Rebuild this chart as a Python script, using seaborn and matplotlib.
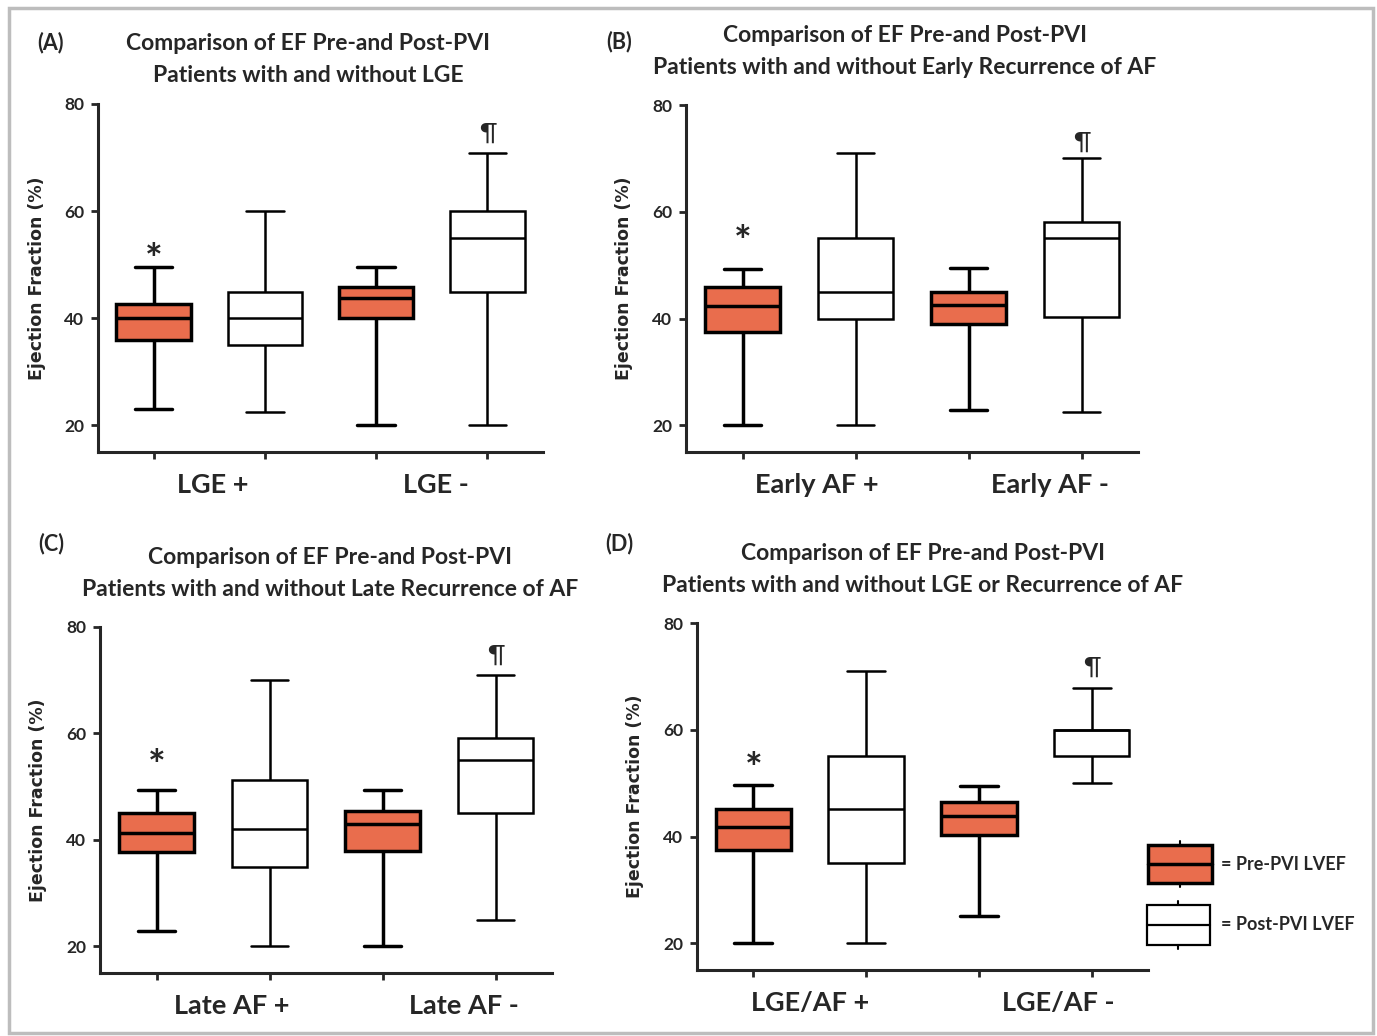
import numpy as np
import pandas as pd
import matplotlib
matplotlib.use("Agg")
import matplotlib.pyplot as plt
import seaborn as sns
from matplotlib.patches import Rectangle

# five-number summaries: [low whisker, q1, median, q3, high whisker]
A_PRE = [[23, 36, 40, 42.7, 49.5], [20, 40, 43.7, 45.9, 49.5]]
A_POST = [[22.5, 35, 40, 44.9, 60], [20, 44.9, 55, 60, 70.9]]
B_PRE = [[20, 37.4, 42.4, 45.9, 49.3], [22.9, 39, 42.6, 44.9, 49.5]]
B_POST = [[20, 40, 44.9, 55, 71], [22.5, 40.2, 55, 58.1, 70]]
C_PRE = [[22.9, 37.8, 41.3, 45.1, 49.4], [20, 37.9, 43, 45.4, 49.4]]
C_POST = [[20, 35, 42, 51.2, 70], [25, 45.1, 55.1, 59.1, 71]]
D_PRE = [[20, 37.5, 41.7, 45.1, 49.6], [25.2, 40.3, 43.8, 46.5, 49.5]]
D_POST = [[20, 35.1, 45.1, 55.1, 71], [50, 55.1, 60, 60, 67.9]]

GROUPS = [["LGE +", "LGE -"], ["Early AF +", "Early AF -"],
          ["Late AF +", "Late AF -"], ["LGE/AF +", "LGE/AF -"]]
PANEL_LABELS = ["(A)", "(B)", "(C)", "(D)"]
TITLE_LINE1 = "Comparison of EF Pre-and Post-PVI"
TITLE_LINE2 = ["Patients with and without LGE",
               "Patients with and without Early Recurrence of AF",
               "Patients with and without Late Recurrence of AF",
               "Patients with and without LGE or Recurrence of AF"]
STAR_Y = [50.4, 53.9, 53.5, 52.2]
PILCROW_Y = [74.5, 73.1, 74.7, 71.7]

ORANGE = "#E96D4D"
W, H = 1377, 1036

# where the group names sit under each panel (the original isn't centred exactly)
GROUP_X = [[0.53, 2.54], [0.66, 2.72], [0.67, 2.72], [0.5, 2.7]]

sns.set_style("ticks")
plt.rcParams["font.family"] = ["Lato", "DejaVu Sans"]


def panel_frame(pre, post):
    rows = []
    for g, (p, q) in enumerate(zip(pre, post)):
        rows += [(f"s{2*g}", "Pre", v) for v in p]
        rows += [(f"s{2*g+1}", "Post", v) for v in q]
    return pd.DataFrame(rows, columns=["slot", "phase", "ef"])


def px_rect(left, right, top, bottom):
    return [left / W, 1 - bottom / H, (right - left) / W, (bottom - top) / H]


fig = plt.figure(figsize=(W / 100, H / 100), dpi=100)

# axes boxes in pixels: left, right, top(80), bottom(x axis)
boxes = [px_rect(98, 543, 104, 452), px_rect(686, 1138, 105, 452),
         px_rect(100, 552, 627, 973), px_rect(697, 1148, 623, 970)]
data = [(A_PRE, A_POST), (B_PRE, B_POST), (C_PRE, C_POST), (D_PRE, D_POST)]
order = ["s0", "s1", "s2", "s3"]

for i, (rect, (pre, post)) in enumerate(zip(boxes, data)):
    ax = fig.add_axes(rect)
    df = panel_frame(pre, post)
    sns.boxplot(data=df[df.phase == "Pre"], x="slot", y="ef", order=order,
                color=ORANGE, saturation=1, width=0.67, whis=(0, 100),
                linewidth=2.5, linecolor="black", ax=ax)
    sns.boxplot(data=df[df.phase == "Post"], x="slot", y="ef", order=order,
                color="white", saturation=1, width=0.67, whis=(0, 100),
                linewidth=1.8, linecolor="black", ax=ax)

    ax.set_xlim(-0.5, 3.5)
    ax.set_ylim(15, 80)
    ax.set_yticks([20, 40, 60, 80])
    ax.set_xticks([0, 1, 2, 3])
    ax.set_xticklabels([])
    ax.set_xticks(GROUP_X[i], minor=True)
    ax.set_xticklabels(GROUPS[i], minor=True, fontsize=19.5, fontweight="bold")
    ax.tick_params(axis="x", which="minor", length=0, pad=15)
    ax.tick_params(axis="both", which="major", length=5, width=2, direction="out")
    ax.tick_params(axis="y", pad=5)
    for lab in ax.get_yticklabels():
        lab.set_fontsize(12.5)
        lab.set_fontweight("bold")
    ax.set_xlabel("")
    ax.set_ylabel("Ejection Fraction (%)", fontsize=12.5, fontweight="bold",
                  family="DejaVu Sans")
    ax.yaxis.set_label_coords(-0.117, 0.5)
    sns.despine(ax=ax)
    for sp in ["left", "bottom"]:
        ax.spines[sp].set_linewidth(2.2)

    ax.text(0, STAR_Y[i], "*", ha="center", va="center", fontsize=30,
            fontweight="bold")
    ax.text(3, PILCROW_Y[i], "¶", ha="center", va="center", fontsize=18)

# titles and panel letters (pixel positions)
title_pos = [(308, 44, 76), (905, 36, 67), (330, 558, 590), (923, 554, 586)]
label_pos = [(51, 43), (619, 42), (51, 544), (619, 544)]
for i in range(4):
    x, y1, y2 = title_pos[i]
    fig.text(x / W, 1 - y1 / H, TITLE_LINE1, ha="center", va="center",
             fontsize=16.5, fontweight="bold")
    fig.text(x / W, 1 - y2 / H, TITLE_LINE2[i], ha="center", va="center",
             fontsize=16.5, fontweight="bold")
    lx, ly = label_pos[i]
    fig.text(lx / W, 1 - ly / H, PANEL_LABELS[i], ha="center", va="center",
             fontsize=15.5, fontweight="bold")

# legend keys
for (l, r, t, b, stub), face, lw, label in [
        ((1148, 1212, 845, 883, 1180), ORANGE, 2.5, "= Pre-PVI LVEF"),
        ((1147, 1210, 905, 945, 1178), "white", 1.6, "= Post-PVI LVEF")]:
    fig.patches.append(Rectangle((l / W, 1 - b / H), (r - l) / W, (b - t) / H,
                                 transform=fig.transFigure, facecolor=face,
                                 edgecolor="black", lw=lw))
    mid = (t + b) / 2
    fig.lines.append(plt.Line2D([l / W, r / W], [1 - mid / H, 1 - mid / H],
                                transform=fig.transFigure, color="black", lw=lw))
    for y0, y1 in [(t - 4, t), (b, b + 4)]:
        fig.lines.append(plt.Line2D([stub / W, stub / W], [1 - y0 / H, 1 - y1 / H],
                                    transform=fig.transFigure, color="black", lw=1.5))
    fig.text(1221 / W, 1 - mid / H, label, ha="left", va="center",
             fontsize=13, fontweight="bold")

# gray outer frame
fig.patches.append(Rectangle((9 / W, 1 - 1033 / H), 1364 / W, 1025 / H,
                             transform=fig.transFigure, fill=False,
                             edgecolor="#bdbdbd", lw=2.5))

fig.savefig("out.png", dpi=100)
